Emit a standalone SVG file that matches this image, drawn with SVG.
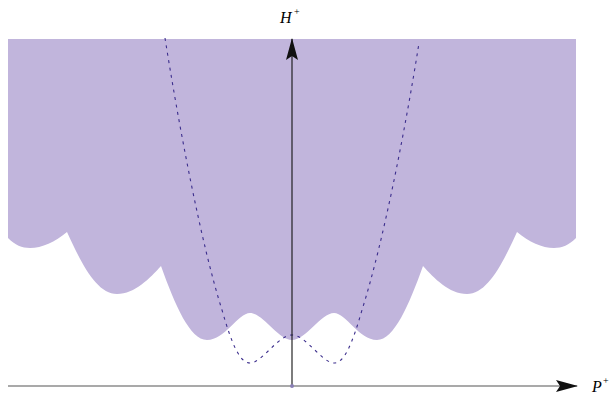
<svg xmlns="http://www.w3.org/2000/svg" width="612" height="398" viewBox="0 0 612 398">
<style>
.lbl{font-family:"Liberation Serif",serif;font-style:italic;font-size:16px;fill:#000}
.sup{font-family:"Liberation Serif",serif;font-size:10px;fill:#000}
</style>
<defs>
<marker id="ah" viewBox="0 0 22 12" refX="21" refY="6" markerWidth="22" markerHeight="12" markerUnits="userSpaceOnUse" orient="auto">
<path d="M0,0 L22,6 L0,12 L4,6 Z" fill="#111"/>
</marker>
</defs>
<g id="region">
<path d="M8,39 L8,238 C15,245 22,248 30,248 C42,248 55,242 67,232 C82,265 97,294 117,294 C135,294 150,278 161,266 C175,305 190,340 207,340 C225,340 238,313 250,313 C263,313 278,340 292,340 C306,340 321,313 334,313 C346,313 359,340 377,340 C394,340 409,305 423,266 C434,278 449,294 467,294 C487,294 502,265 517,232 C529,242 542,248 554,248 C562,248 569,245 576,238 L576,39 Z" fill="#c1b5dc"/>
</g>
<g id="curve">
<path d="M165,38 C178,120 200,240 222,310 C232,345 240,363 250,363 C262,363 278,335 292,335 C306,335 322,363 334,363 C344,363 352,345 362,310 C384,240 406,125 419,43" fill="none" stroke="#3b2d8c" stroke-width="1.1" stroke-dasharray="3 4.5"/>
</g>
<g id="connectors">
<line x1="8" y1="386" x2="577" y2="386" stroke="#555" stroke-width="1.2" marker-end="url(#ah)"/>
<line x1="292" y1="386" x2="292" y2="39" stroke="#111" stroke-width="1.1" marker-end="url(#ah)"/>
<circle cx="292" cy="386" r="2" fill="#8a7fb5"/>
</g>
<g id="label-H">
<text class="lbl" x="280" y="23">H</text><text class="sup" x="294" y="15">+</text>
</g>
<g id="label-P">
<text class="lbl" x="592" y="392">P</text><text class="sup" x="603" y="384">+</text>
</g>
</svg>
